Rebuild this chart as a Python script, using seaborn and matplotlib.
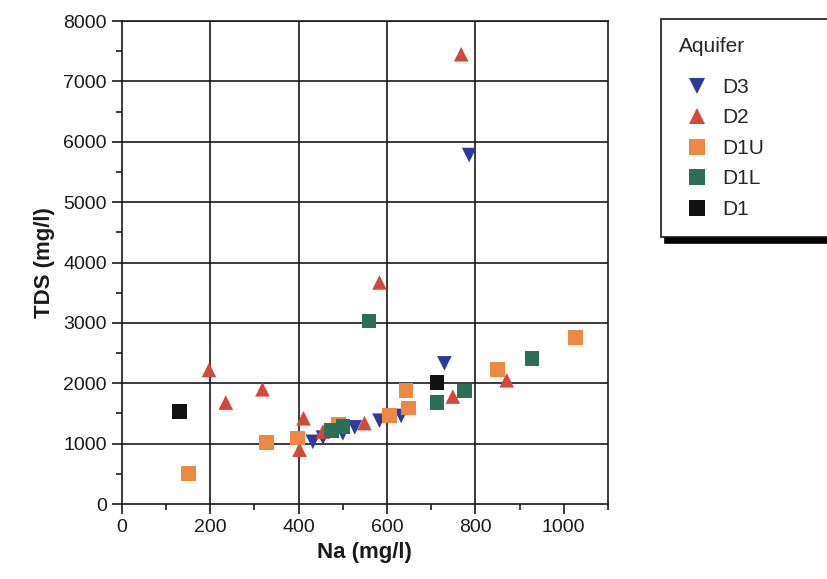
import matplotlib
matplotlib.use("Agg")
import matplotlib.pyplot as plt
import seaborn as sns
import pandas as pd
from matplotlib.ticker import MultipleLocator

# ---- data ----
aquifer_order = ["D3", "D2", "D1U", "D1L", "D1"]

d3_na  = [432, 455, 500, 527, 583, 632, 730, 786]
d3_tds = [1030, 1100, 1170, 1270, 1380, 1460, 2330, 5780]

d2_na  = [197, 235, 318, 402, 411, 455, 549, 583, 606, 749, 768, 871]
d2_tds = [2220, 1680, 1900, 900, 1420, 1200, 1340, 3670, 1460, 1780, 7450, 2050]

d1u_na  = [150, 327, 398, 490, 606, 643, 649, 850, 1027]
d1u_tds = [510, 1020, 1090, 1320, 1470, 1880, 1590, 2230, 2760]

d1l_na  = [474, 500, 559, 713, 775, 928]
d1l_tds = [1220, 1280, 3030, 1680, 1870, 2410]

d1_na  = [130, 713]
d1_tds = [1530, 2010]

x_ticks = [0, 200, 400, 600, 800, 1000]
y_ticks = [0, 1000, 2000, 3000, 4000, 5000, 6000, 7000, 8000]

rows = []
for name, xs, ys in [("D3", d3_na, d3_tds), ("D2", d2_na, d2_tds),
                     ("D1U", d1u_na, d1u_tds), ("D1L", d1l_na, d1l_tds),
                     ("D1", d1_na, d1_tds)]:
    for xv, yv in zip(xs, ys):
        rows.append({"Na": xv, "TDS": yv, "Aquifer": name})
df = pd.DataFrame(rows)

palette = {"D3": "#2b3c9b", "D2": "#d2483a", "D1U": "#ec8a45",
           "D1L": "#2e6e57", "D1": "#111111"}
markers = {"D3": "v", "D2": "^", "D1U": "s", "D1L": "s", "D1": "s"}

sns.set_theme(style="white")
plt.rcParams["font.family"] = ["Liberation Sans", "DejaVu Sans"]

fig = plt.figure(figsize=(8.27, 5.79), dpi=100)
ax = fig.add_axes([0.1475, 0.1295, 0.5875, 0.8342])

sns.scatterplot(data=df, x="Na", y="TDS", hue="Aquifer", style="Aquifer",
                hue_order=aquifer_order, style_order=aquifer_order,
                palette=palette, markers=markers, s=110, linewidth=0,
                ax=ax, legend=True, zorder=3)

handles, labels = ax.get_legend_handles_labels()
ax.get_legend().remove()

ax.set_xlim(0, 1100)
ax.set_ylim(0, 8000)
ax.set_xticks(x_ticks)
ax.set_yticks(y_ticks)
ax.set_xticklabels([str(v) for v in x_ticks])
ax.set_yticklabels([str(v) for v in y_ticks])
ax.xaxis.set_minor_locator(MultipleLocator(100))
ax.yaxis.set_minor_locator(MultipleLocator(500))

ax.grid(True, which="major", color="#1a1a1a", linewidth=1.2)
gl = ax.xaxis.get_gridlines()
gl[0].set_visible(False)
gl[-1].set_visible(False)
ax.yaxis.get_gridlines()[0].set_visible(False)
ax.set_axisbelow(True)

for sp in ax.spines.values():
    sp.set_color("#1a1a1a")
    sp.set_linewidth(1.2)
    sp.set_visible(True)

ax.tick_params(axis="both", which="major", direction="out", length=7,
               width=1.2, color="#1a1a1a", labelsize=14, pad=4,
               left=True, bottom=True, labelcolor="#1a1a1a")
ax.tick_params(axis="both", which="minor", direction="out", length=4,
               width=1.2, color="#1a1a1a", left=True, bottom=True)

ax.set_xlabel("Na (mg/l)", fontsize=16, fontweight="bold", labelpad=4,
              color="#1a1a1a")
ax.set_ylabel("TDS (mg/l)", fontsize=16, fontweight="bold", labelpad=6,
              color="#1a1a1a")

leg = fig.legend(handles, labels, title="Aquifer", loc="upper left",
                 bbox_to_anchor=(0.7993, 0.0, 0.35, 0.967), mode="expand",
                 frameon=True, fancybox=False,
                 shadow={"ox": 3, "oy": -4.5, "color": "black", "alpha": 1.0},
                 fontsize=15, title_fontsize=15, alignment="left",
                 labelspacing=0.55, handlelength=1.8, handletextpad=0.3,
                 borderpad=0.85, markerscale=1.15, borderaxespad=0)
leg._legend_box.sep = 16
leg.get_frame().set_edgecolor("#1a1a1a")
leg.get_frame().set_linewidth(1.2)

fig.savefig("out.png", dpi=100)
